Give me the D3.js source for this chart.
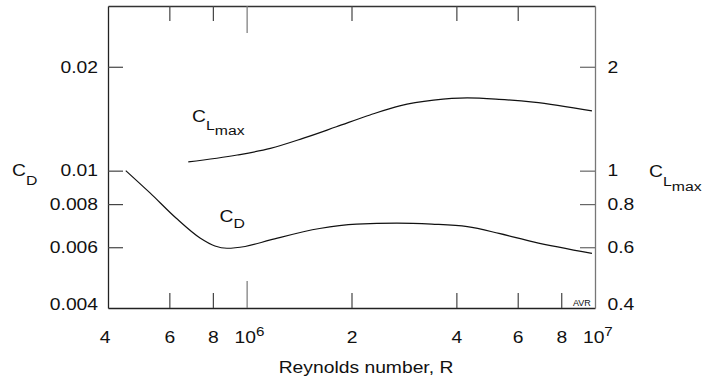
<!DOCTYPE html>
<html>
<head>
<meta charset="utf-8">
<script src="https://cdn.jsdelivr.net/npm/d3@7"></script>
<style>
body { margin: 0; background: #fff; }
svg { display: block; font-family: "Liberation Sans", Arial, sans-serif; }
text { fill: #111; }
</style>
</head>
<body>
<div id="chart"></div>
<script>
// Reynolds number values
var cdR   = [4.5e5, 5.28e5, 6.27e5, 7.35e5, 8.11e5, 8.78e5, 9.9e5, 1.17e6, 1.62e6, 2.07e6, 2.7e6, 3.4e6, 4.3e6, 5.3e6, 6.65e6, 9.8e6];
var cdVal = [0.0100, 0.00862, 0.00729, 0.00638, 0.00605, 0.00596, 0.00603, 0.0063, 0.0068, 0.0070, 0.00705, 0.0070, 0.00688, 0.00658, 0.00622, 0.00576];

var clR   = [6.8e5, 9.4e5, 1.17e6, 1.45e6, 1.81e6, 2.26e6, 2.75e6, 3.44e6, 4.3e6, 5.3e6, 6.65e6, 9.8e6];
var clVal = [1.06, 1.11, 1.16, 1.24, 1.34, 1.45, 1.54, 1.60, 1.625, 1.61, 1.58, 1.49];

var xTicks = [4e5, 6e5, 8e5, 1e6, 2e6, 4e6, 6e6, 8e6, 1e7];
var xLabels = ["4", "6", "8", "10|6", "2", "4", "6", "8", "10|7"];
var xTopTicks = [6e5, 8e5, 1e6, 2e6, 4e6, 6e6];
var cdTicks = [0.004, 0.006, 0.008, 0.01, 0.02];
var cdLabels = ["0.004", "0.006", "0.008", "0.01", "0.02"];
var clTicks = [0.4, 0.6, 0.8, 1, 2];
var clLabels = ["0.4", "0.6", "0.8", "1", "2"];

var width = 706, height = 383;
var pL = 108, pR = 595, pT = 6, pB = 308;
var sx = 1.17; // reference lettering is a bit wide

var svg = d3.select("#chart").append("svg")
    .attr("width", width).attr("height", height);

var x = d3.scaleLog().domain([4e5, 1e7]).range([pL, pR]);
var y = d3.scaleLog().domain([0.004, 0.03]).range([pB, pT]);
var y2 = d3.scaleLog().domain([0.4, 3]).range([pB, pT]);

function styleAxis(g, stroke) {
    g.select(".domain").attr("stroke", stroke).attr("stroke-width", 1.3);
    g.selectAll(".tick line").attr("stroke", "#444").attr("stroke-width", 1.2);
    g.selectAll(".tick text").attr("font-size", 16.5).attr("fill", "#111")
        .attr("transform", "scale(" + sx + ",1)");
}

// bottom axis
var gx = svg.append("g").attr("transform", "translate(0," + pB + ")")
    .call(d3.axisBottom(x).tickValues(xTicks)
        .tickFormat(function(d, i) { return xLabels[i]; })
        .tickSizeInner(-15).tickSizeOuter(0).tickPadding(23));
styleAxis(gx, "#222");
gx.selectAll(".tick").filter(function(d) { return d == 4e5 || d == 1e7; }).select("line").remove();
gx.selectAll(".tick").filter(function(d) { return d == 1e6; }).select("line")
    .attr("y2", -27).attr("stroke", "#777");
gx.selectAll(".tick").filter(function(d) { return d == 4e5; }).select("text").attr("x", -3);
gx.selectAll(".tick text").each(function(d, i) {
    var lab = xLabels[i];
    if (lab.indexOf("|") < 0) return;
    var parts = lab.split("|");
    var t = d3.select(this).text(parts[0]).attr("x", 2);
    t.append("tspan").attr("font-size", 13).attr("dy", "-7").text(parts[1]);
});

// top axis, ticks only
var gt = svg.append("g").attr("transform", "translate(0," + pT + ")")
    .call(d3.axisTop(x).tickValues(xTopTicks).tickFormat("")
        .tickSizeInner(-15).tickSizeOuter(0));
styleAxis(gt, "#333");
gt.selectAll(".tick").filter(function(d) { return d == 1e6; }).select("line")
    .attr("y2", 27).attr("stroke", "#777");

// left axis, C_D
var gy = svg.append("g").attr("transform", "translate(" + pL + ",0)")
    .call(d3.axisLeft(y).tickValues(cdTicks)
        .tickFormat(function(d, i) { return cdLabels[i]; })
        .tickSizeInner(-15).tickSizeOuter(0).tickPadding(8.5));
styleAxis(gy, "#222");
gy.selectAll(".tick").filter(function(d) { return d == 0.004; }).select("line").remove();
gy.selectAll(".tick").filter(function(d) { return d == 0.004; }).select("text").attr("y", -4);

// right axis, C_Lmax
var gr = svg.append("g").attr("transform", "translate(" + pR + ",0)")
    .call(d3.axisRight(y2).tickValues(clTicks)
        .tickFormat(function(d, i) { return clLabels[i]; })
        .tickSizeInner(-15).tickSizeOuter(0).tickPadding(10.7));
styleAxis(gr, "#777");
gr.selectAll(".tick line").attr("stroke", "#666");
gr.selectAll(".tick").filter(function(d) { return d == 0.4; }).select("line").remove();
gr.selectAll(".tick").filter(function(d) { return d == 0.4; }).select("text").attr("y", -4);

// curves
var cdLine = d3.line()
    .x(function(d, i) { return x(cdR[i]); })
    .y(function(d) { return y(d); })
    .curve(d3.curveMonotoneX);
var clLine = d3.line()
    .x(function(d, i) { return x(clR[i]); })
    .y(function(d) { return y2(d); })
    .curve(d3.curveMonotoneX);

svg.append("path").datum(cdVal).attr("d", cdLine)
    .attr("fill", "none").attr("stroke", "#111").attr("stroke-width", 1.2);
svg.append("path").datum(clVal).attr("d", clLine)
    .attr("fill", "none").attr("stroke", "#111").attr("stroke-width", 1.2);

// labels
function label(px, py, anchor) {
    return svg.append("text")
        .attr("transform", "translate(" + px + "," + py + ") scale(" + sx + ",1)")
        .attr("text-anchor", anchor || "start")
        .attr("font-size", 16.5);
}

function cSub(px, py, sub, sub2, dy1, dy2) {
    var t = label(px, py);
    t.append("tspan").text("C");
    t.append("tspan").attr("font-size", 13.5).attr("dy", dy1).text(sub);
    if (sub2) t.append("tspan").attr("font-size", 13.5).attr("dy", dy2).text(sub2);
}

cSub(12, 176, "D", null, 9);
cSub(649, 177.3, "L", "max", 8.7, 5.3);
cSub(192, 121.7, "L", "max", 8.5, 5);
cSub(219.5, 221.7, "D", null, 6.6);

label(366, 373.3, "middle").text("Reynolds number, R");

svg.append("text").attr("x", 573).attr("y", 306)
    .attr("font-size", 9).text("AVR");
</script>
</body>
</html>
